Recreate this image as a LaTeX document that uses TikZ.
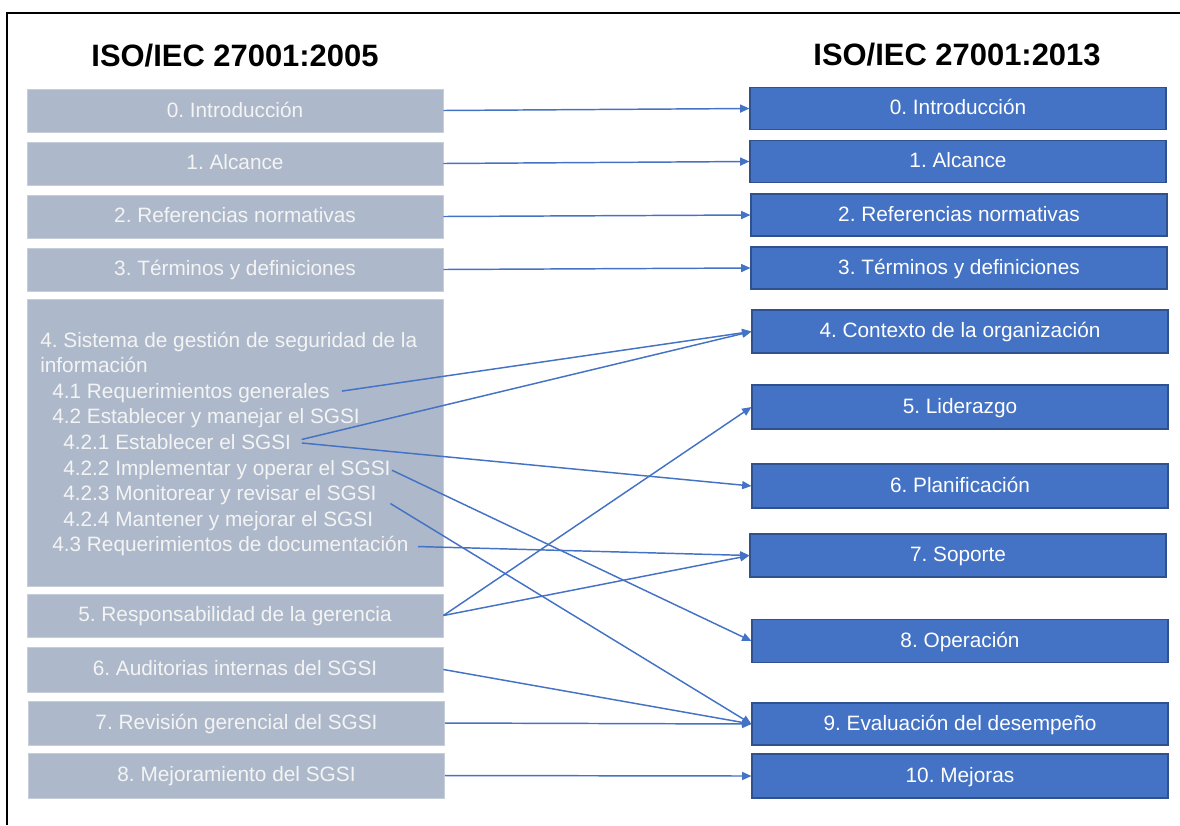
\documentclass[tikz,border=0pt]{standalone}
\usepackage{fontspec}
\setmainfont{Liberation Sans}
\usetikzlibrary{arrows.meta}
\definecolor{oldfill}{HTML}{ADB9CA}
\definecolor{oldtext}{HTML}{F4F4F4}
\definecolor{newfill}{HTML}{4472C4}
\definecolor{newedge}{HTML}{2F528F}
\definecolor{linkblue}{HTML}{4472C4}
\frenchspacing

\begin{document}
\begin{tikzpicture}[x=0.75pt,y=-0.75pt,
  boxfont/.style={font=\fontsize{15.6pt}{19pt}\selectfont},
  oldbox/.style={boxfont, fill=oldfill, draw=oldfill!70!white, line width=0.6pt,
    minimum width=312pt, minimum height=32.25pt, inner sep=0pt, text=oldtext,
    text height=1.75ex, text depth=0pt},
  itemline/.style={boxfont, text=oldtext, anchor=base west, inner sep=0pt},
  newbox/.style={boxfont, fill=newfill, draw=newedge, line width=0.8pt,
    minimum width=312pt, minimum height=31.5pt, inner sep=0pt, text=white,
    text height=1.75ex, text depth=0pt},
  heading/.style={font=\bfseries\fontsize{23.2pt}{28pt}\selectfont, inner sep=0pt,
    text height=1.4ex, text depth=0pt},
  link/.style={draw=linkblue, line width=1.1pt, -{Triangle[length=7pt,width=6pt]}}
]
\useasboundingbox (0,0) rectangle (1180,825);

% outer frame (left and top edges)
\draw[line width=1.5pt] (7,825) -- (7,13) -- (1180,13);

% column headings
\node[heading] (h05) at (235,62) {ISO/IEC 27001:2005};
\node[heading] (h13) at (957,61) {ISO/IEC 27001:2013};

% clauses of the 2005 edition
\node[oldbox, text height=2.1ex] (o0) at (235,110.5) {0. Introducción};
\node[oldbox] (o1) at (235,163.5) {1. Alcance};
\node[oldbox] (o2) at (235,216.5) {2. Referencias normativas};
\node[oldbox] (o3) at (235,269.5) {3. Términos y definiciones};
\node[oldbox, minimum height=215.25pt] (o4) at (235,442.5) {};
\node[oldbox] (o5) at (235,615.5) {5. Responsabilidad de la gerencia};
\node[oldbox, minimum height=33.75pt] (o6) at (235,669.5) {6. Auditorias internas del SGSI};
\node[oldbox, minimum height=33pt] (o7) at (236.5,723) {7. Revisión gerencial del SGSI};
\node[oldbox, minimum height=33.75pt] (o8) at (236.5,775.5) {8. Mejoramiento del SGSI};

% sub-clauses listed inside clause 4
\node[itemline] (s4a) at (40,347) {4. Sistema de gestión de seguridad de la};
\node[itemline] (s4b) at (40,372.6) {información};
\node[itemline] (s41) at (52,398.2) {4.1 Requerimientos generales};
\node[itemline] (s42) at (52,423.8) {4.2 Establecer y manejar el SGSI};
\node[itemline] (s421) at (63,449.4) {4.2.1 Establecer el SGSI};
\node[itemline] (s422) at (63,475) {4.2.2 Implementar y operar el SGSI};
\node[itemline] (s423) at (63,500.6) {4.2.3 Monitorear y revisar el SGSI};
\node[itemline] (s424) at (63,526.2) {4.2.4 Mantener y mejorar el SGSI};
\node[itemline] (s43) at (52,551.8) {4.3 Requerimientos de documentación};

% clauses of the 2013 edition
\node[newbox] (n0) at (958,108.5) {0. Introducción};
\node[newbox] (n1) at (958,161.5) {1. Alcance};
\node[newbox] (n2) at (959,215) {2. Referencias normativas};
\node[newbox] (n3) at (959,268) {3. Términos y definiciones};
\node[newbox, minimum height=32.25pt] (n4) at (960,331.5) {4. Contexto de la organización};
\node[newbox, minimum height=33pt] (n5) at (960,407) {5. Liderazgo};
\node[newbox, minimum height=33pt] (n6) at (960,486) {6. Planificación};
\node[newbox, minimum height=32.25pt] (n7) at (958,555.5) {7. Soporte};
\node[newbox, minimum height=32.25pt] (n8) at (960,641) {8. Operación};
\node[newbox] (n9) at (960,724) {9. Evaluación del desempeño};
\node[newbox, minimum height=33pt] (n10) at (960,776) {10. Mejoras};

% correspondences
\draw[link] (o0.east) -- (n0.west);
\draw[link] (o1.east) -- (n1.west);
\draw[link] (o2.east) -- (n2.west);
\draw[link] (o3.east) -- (n3.west);
\draw[link, shorten <=9pt] (s41.east) -- (n4.west);
\draw[link, shorten <=8pt] (s421.east) -- (n4.west);
\draw[link, shorten <=8pt] (s421.east) -- (n6.west);
\draw[link, shorten <=1pt] (s422.east) -- (n8.west);
\draw[link, shorten <=12pt] (s423.east) -- (n9.west);
\draw[link, shorten <=7pt] (s43.east) -- (n7.west);
\draw[link] (o5.east) -- (n5.west);
\draw[link] (o5.east) -- (n7.west);
\draw[link] (o6.east) -- (n9.west);
\draw[link] (o7.east) -- (n9.west);
\draw[link] (o8.east) -- (n10.west);
\end{tikzpicture}
\end{document}
